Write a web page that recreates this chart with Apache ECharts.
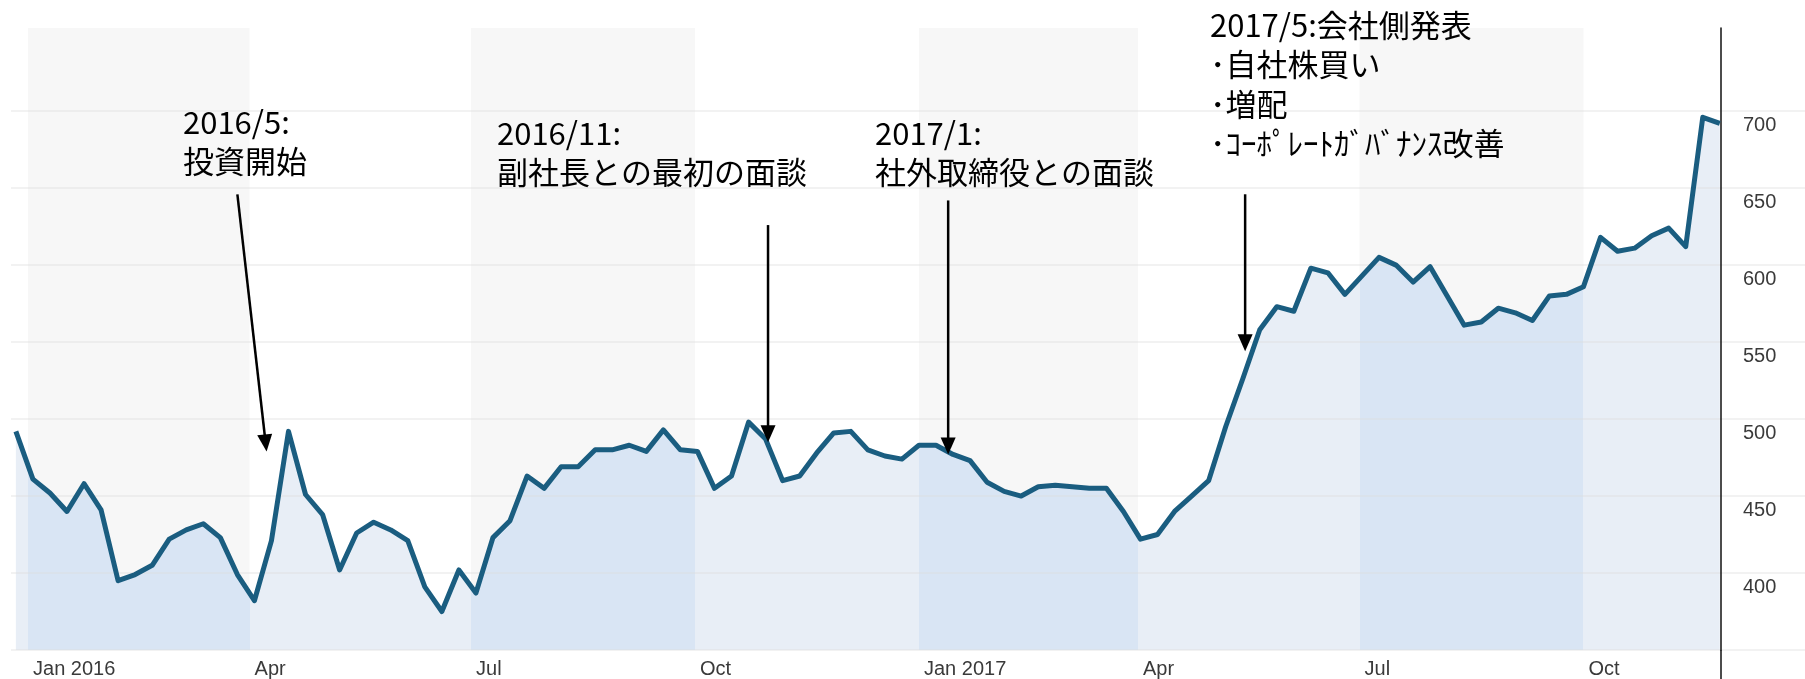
<!DOCTYPE html>
<html>
<head>
<meta charset="utf-8">
<script src="https://cdn.jsdelivr.net/npm/echarts@6/dist/echarts.min.js"></script>
<style>
  html, body { margin: 0; padding: 0; background: #ffffff; }
  #chart { width: 1805px; height: 679px; }
</style>
</head>
<body>
<div id="chart"></div>
<script>
// Weekly closing price, one point per week, first week ending 2015-12-27
const firstWeek = '2015-12-27';
const prices = [
  492, 461, 452, 440, 458, 441, 395, 399, 405, 422,
  428, 432, 423, 399, 382, 421, 492, 451, 438, 402,
  426, 433, 428, 421, 391, 375, 402, 387, 423, 434,
  463, 455, 469, 469, 480, 480, 483, 479, 493, 480,
  479, 455, 463, 498, 487, 460, 463, 478, 491, 492,
  480, 476, 474, 483, 483, 477, 473, 459, 453, 450,
  456, 457, 456, 455, 455, 440, 422, 425, 440, 450,
  460, 495, 526, 558, 573, 570, 598, 595, 581, 593,
  605, 600, 589, 599, 580, 561, 563, 572, 569, 564,
  580, 581, 586, 618, 609, 611, 619, 624, 612, 696,
  692
];

// Quarter starts: tick labels on the time axis
const quarterStarts = ['2016-01-01', '2016-04-01', '2016-07-01', '2016-10-01',
                       '2017-01-01', '2017-04-01', '2017-07-01', '2017-10-01'];
const quarterLabels = ['Jan 2016', 'Apr', 'Jul', 'Oct', 'Jan 2017', 'Apr', 'Jul', 'Oct'];
// Alternate quarters drawn with a shaded background
const shadedQuarters = [['2016-01-01', '2016-04-01'], ['2016-07-01', '2016-10-01'],
                        ['2017-01-01', '2017-04-01'], ['2017-07-01', '2017-10-01']];
const yTicks = [400, 450, 500, 550, 600, 650, 700];
const axisRange = { xMin: '2015-12-25', xMax: '2017-12-31', yMin: 350, yMax: 754, yStep: 50 };

// Milestones: note text and the arrow from the note down to the price line
const events = [
  { text: '2016/5:\n投資開始', from: ['2016-03-27', 646], to: ['2016-04-08', 479] },
  { text: '2016/11:\n副社長との最初の面談', from: ['2016-10-31', 626], to: ['2016-10-31', 485] },
  { text: '2017/1:\n社外取締役との面談', from: ['2017-01-13', 642], to: ['2017-01-13', 477] },
  { text: '2017/5:会社側発表\n･自社株買い\n･増配\n･ｺｰﾎﾟﾚｰﾄｶﾞﾊﾞﾅﾝｽ改善', from: ['2017-05-15', 646], to: ['2017-05-15', 544] }
];

// ---- layout ----
const W = 1805, H = 679;
const GRID = { left: 11, right: 0, top: 28, bottom: 29 };
const Y_AXIS_INSET = 84;              // price axis sits this far inside the right edge
const NOTE_POS = [[183, 102], [497, 113], [875, 113], [1210, 5]];
const NOTE_FONT = '"Noto Sans CJK JP", "Noto Sans CJK SC", sans-serif';
const AXIS_FONT = '"Liberation Sans Narrow", "Liberation Sans", Arial, sans-serif';

const COLORS = {
  line: '#1a5d80',
  fillShaded: '#d9e5f4',
  fillPlain: '#e8eef6',
  band: '#f7f7f7',
  grid: 'rgba(222,222,222,0.5)',
  axisText: '#3a3a3a'
};

const DAY = 86400000;
const t = s => Date.parse(s);
const points = prices.map((p, i) => [t(firstWeek) + i * 7 * DAY, p]);
const labelByTime = {};
quarterStarts.forEach((q, i) => { labelByTime[t(q)] = quarterLabels[i]; });

// fill colour changes with the quarter: stronger blue in shaded quarters
const fillPieces = [];
let cursor = null;
shadedQuarters.forEach(([a, b]) => {
  const piece = { lt: t(a), color: COLORS.fillPlain };
  if (cursor !== null) piece.gte = cursor;
  fillPieces.push(piece);
  fillPieces.push({ gte: t(a), lt: t(b), color: COLORS.fillShaded });
  cursor = t(b);
});
fillPieces.push({ gte: cursor, color: COLORS.fillPlain });

const chart = echarts.init(document.getElementById('chart'), null, { renderer: 'canvas' });

const option = {
  animation: false,
  backgroundColor: '#ffffff',
  grid: { left: GRID.left, right: GRID.right, top: GRID.top, bottom: GRID.bottom, containLabel: false },
  xAxis: {
    type: 'value',
    min: t(axisRange.xMin),
    max: t(axisRange.xMax),
    axisLine: { show: false },
    axisTick: { show: false },
    splitLine: { show: false },
    axisLabel: {
      customValues: quarterStarts.map(t),
      formatter: v => labelByTime[v] || '',
      align: 'left',
      padding: [0, 0, 0, 5],
      margin: 9,
      color: COLORS.axisText,
      fontSize: 20,
      fontFamily: AXIS_FONT
    }
  },
  yAxis: {
    type: 'value',
    position: 'right',
    offset: -Y_AXIS_INSET,
    min: axisRange.yMin,
    max: axisRange.yMax,
    interval: axisRange.yStep,
    z: 3,
    axisLine: { show: true, lineStyle: { color: '#111111', width: 1.5 } },
    axisTick: { show: false },
    splitLine: { show: false },
    axisLabel: {
      formatter: v => (yTicks.indexOf(v) >= 0 ? String(v) : ''),
      align: 'left',
      verticalAlign: 'top',
      padding: [4, 0, 0, 0],
      margin: 22,
      color: COLORS.axisText,
      fontSize: 20,
      fontFamily: AXIS_FONT
    }
  },
  visualMap: {
    type: 'piecewise',
    show: false,
    seriesIndex: 0,
    dimension: 0,
    pieces: fillPieces
  },
  series: [
    {
      // filled area under the price line
      type: 'line',
      data: points,
      symbol: 'none',
      silent: true,
      z: 2,
      lineStyle: { opacity: 0 },
      areaStyle: { opacity: 1, origin: 'start' },
      markArea: {
        silent: true,
        itemStyle: { color: COLORS.band },
        data: shadedQuarters.map(([a, b]) => [{ xAxis: t(a) }, { xAxis: t(b) }])
      },
      // horizontal gridlines across the full width, over the fill
      markLine: {
        silent: true,
        z: 3,
        symbol: 'none',
        label: { show: false },
        lineStyle: { color: COLORS.grid, width: 1.5, type: 'solid' },
        data: [axisRange.yMin].concat(yTicks).map(v => ({ yAxis: v }))
      }
    },
    {
      // price line
      type: 'line',
      data: points,
      symbol: 'none',
      silent: true,
      z: 5,
      lineStyle: { color: COLORS.line, width: 5, join: 'round' }
    }
  ]
};

chart.setOption(option);

// ---- notes and arrows, anchored in data coordinates ----
const toPx = ([d, v]) => chart.convertToPixel({ xAxisIndex: 0, yAxisIndex: 0 }, [t(d), v]);
const graphics = [];
const HEAD_LEN = 17, HEAD_HALF = 7.5;

events.forEach((ev, i) => {
  const p0 = toPx(ev.from);
  const p1 = toPx(ev.to);
  const dx = p1[0] - p0[0], dy = p1[1] - p0[1];
  const len = Math.hypot(dx, dy);
  const ux = dx / len, uy = dy / len;
  const bx = p1[0] - ux * HEAD_LEN, by = p1[1] - uy * HEAD_LEN;
  const nx = -uy, ny = ux;
  graphics.push({
    type: 'line', z: 20, silent: true,
    shape: { x1: p0[0], y1: p0[1], x2: bx + ux, y2: by + uy },
    style: { stroke: '#000000', lineWidth: 2.5 }
  });
  graphics.push({
    type: 'polygon', z: 20, silent: true,
    shape: { points: [[p1[0], p1[1]], [bx + nx * HEAD_HALF, by + ny * HEAD_HALF], [bx - nx * HEAD_HALF, by - ny * HEAD_HALF]] },
    style: { fill: '#000000' }
  });
  graphics.push({
    type: 'text', z: 20, silent: true,
    x: NOTE_POS[i][0], y: NOTE_POS[i][1],
    style: {
      text: ev.text,
      fill: '#000000',
      fontSize: 31,
      fontFamily: NOTE_FONT,
      lineHeight: 39.5
    }
  });
});

// price axis line continues down past the plot to the bottom edge
const axisX = W - Y_AXIS_INSET;
graphics.push({
  type: 'line', z: 20, silent: true,
  shape: { x1: axisX, y1: H - GRID.bottom, x2: axisX, y2: H },
  style: { stroke: '#111111', lineWidth: 1.5 }
});

chart.setOption({ graphic: graphics });
</script>
</body>
</html>
